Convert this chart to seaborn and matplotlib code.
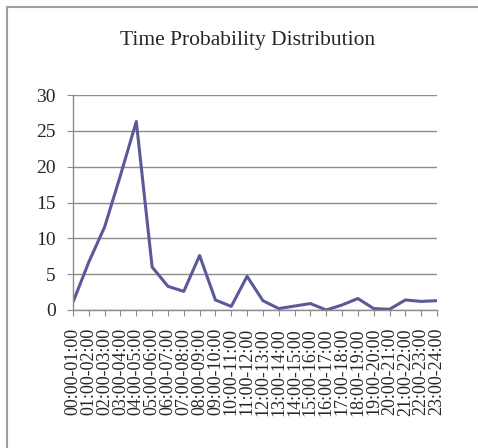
import matplotlib
matplotlib.use("Agg")
import matplotlib.pyplot as plt
import seaborn as sns
import pandas as pd
from matplotlib.patches import Rectangle

periods = [f"{h:02d}:00-{h+1:02d}:00" for h in range(24)]
probability = [1.1, 6.7, 11.6, 18.8, 26.3, 6.0, 3.3, 2.6, 7.6, 1.4, 0.5, 4.7,
               1.3, 0.2, 0.55, 0.9, 0.0, 0.7, 1.6, 0.2, 0.1, 1.4, 1.2, 1.3]
y_ticks = [0, 5, 10, 15, 20, 25, 30]
title = "Time Probability Distribution"

sns.set_style("white")
plt.rcParams['font.family'] = ['Liberation Serif', 'DejaVu Serif']

df = pd.DataFrame({"period": periods, "prob": probability})

fig = plt.figure(figsize=(4.78, 4.48), dpi=100)
ax = fig.add_axes([73/478, 1-310/448, (437-73)/478, (310-95)/448])

sns.lineplot(data=df, x="period", y="prob", ax=ax, color="#5a5a99",
             linewidth=2.2, sort=False)

ax.set_xlim(0, len(periods)-1)
ax.set_ylim(0, 30)
ax.set_yticks(y_ticks)
ax.set_yticklabels([str(v) for v in y_ticks], fontsize=14)
ax.set_xticks(range(len(periods)))
ax.set_xticklabels(periods, rotation=90, fontsize=13)
ax.set_xlabel("")
ax.set_ylabel("")
ax.yaxis.grid(True, color="#8c8c8c", linewidth=1)
ax.xaxis.grid(False)
ax.set_axisbelow(True)
for s in ["top", "right"]:
    ax.spines[s].set_visible(False)
for s in ["left", "bottom"]:
    ax.spines[s].set_color("#8c8c8c")
    ax.spines[s].set_linewidth(1)
ax.tick_params(axis="y", length=4.3, width=0.8, color="#8c8c8c", pad=8, left=True)
ax.tick_params(axis="x", length=4, width=0.8, color="#8c8c8c", pad=9, bottom=True)

fig.text(248/478, 1-40/448, title, ha="center", va="center", fontsize=15.5)

fig.patches.append(Rectangle((7/478, -0.1), 1.2, 1-7/448+0.1, transform=fig.transFigure,
                             fill=False, edgecolor="#a0a0a0", linewidth=1.5))

fig.savefig("out.png", dpi=100)
